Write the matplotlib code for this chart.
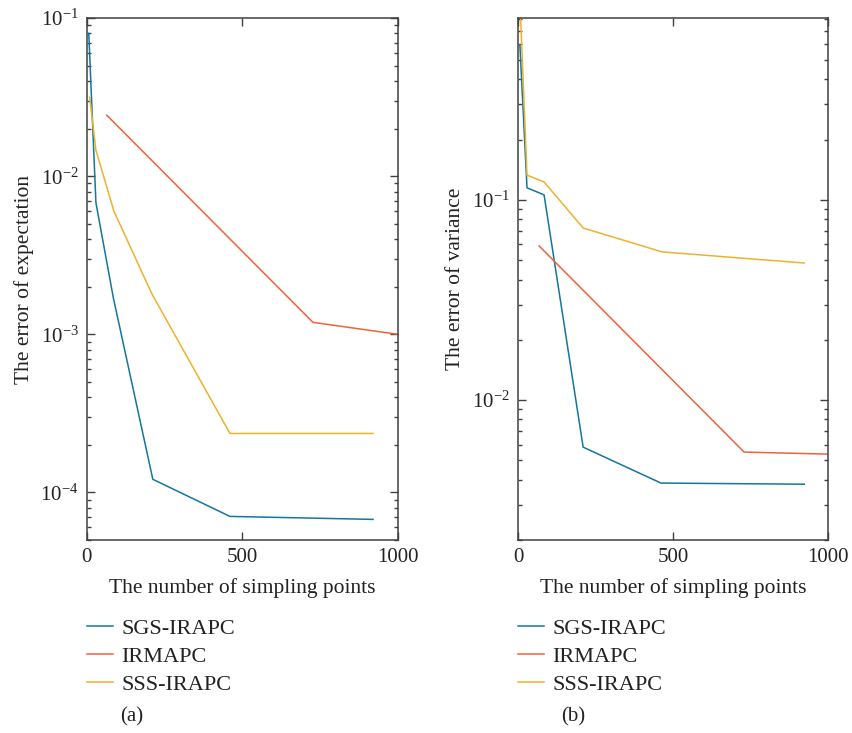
# Error of expectation and variance vs number of sampling points
import matplotlib.pyplot as plt
import numpy as np
from matplotlib.ticker import LogLocator, FixedLocator, NullFormatter

plt.rcParams['font.family'] = 'Liberation Serif'
plt.rcParams['mathtext.fontset'] = 'custom'
plt.rcParams['mathtext.rm'] = 'Liberation Serif'

labels = ['SGS-IRAPC', 'IRMAPC', 'SSS-IRAPC']
colors = ['#13769c', '#f0623a', '#ecb22e']

# (a) error of expectation
sgs_x_a = [6, 29, 85, 212, 460, 920]
sgs_y_a = [0.080, 0.0068, 0.0017, 1.21e-4, 7.05e-5, 6.75e-5]
irm_x_a = [64, 727, 1000]
irm_y_a = [0.0243, 1.19e-3, 1.0e-3]
sss_x_a = [9, 29, 87, 209, 460, 920]
sss_y_a = [0.0316, 0.0146, 0.0060, 0.0018, 2.36e-4, 2.36e-4]

# (b) error of variance
sgs_x_b = [6, 29, 84, 210, 461, 923]
sgs_y_b = [0.596, 0.115, 0.106, 0.00582, 0.00385, 0.0038]
irm_x_b = [68, 729, 1000]
irm_y_b = [0.0589, 0.0055, 0.00537]
sss_x_b = [6, 29, 84, 210, 465, 923]
sss_y_b = [1.0, 0.133, 0.123, 0.0724, 0.055, 0.0484]

fig = plt.figure(figsize=(8.52, 7.33), dpi=100)
ax1 = fig.add_axes([0.102, 0.2633, 0.365, 0.712])
ax2 = fig.add_axes([0.608, 0.2633, 0.364, 0.712])

panels = [
    (ax1, [(sgs_x_a, sgs_y_a), (irm_x_a, irm_y_a), (sss_x_a, sss_y_a)],
     (5.0e-5, 0.1), 'The error of expectation', '(a)', 0.155),
    (ax2, [(sgs_x_b, sgs_y_b), (irm_x_b, irm_y_b), (sss_x_b, sss_y_b)],
     (0.002, 0.81), 'The error of variance', '(b)', 0.6725),
]

for ax, series, ylim, ylab, tag, tx in panels:
    for (x, y), lab, c in zip(series, labels, colors):
        ax.plot(x, y, color=c, lw=1.1, label=lab)
    ax.set_yscale('log')
    ax.set_xlim(0, 1000)
    ax.set_ylim(*ylim)
    ax.xaxis.set_major_locator(FixedLocator([0, 500, 1000]))
    ax.yaxis.set_major_locator(LogLocator(base=10))
    ax.yaxis.set_minor_locator(LogLocator(base=10, subs=np.arange(2, 10)))
    ax.yaxis.set_minor_formatter(NullFormatter())
    ax.tick_params(which='both', direction='in', top=True, right=True,
                   colors='#404040', labelcolor='#222222', labelsize=15, pad=6)
    ax.tick_params(which='major', length=6, width=1)
    ax.tick_params(which='minor', length=3, width=1)
    for s in ax.spines.values():
        s.set_color('#404040')
        s.set_linewidth(1.1)
    ax.set_xlabel('The number of simpling points', fontsize=15.5, color='#222222',
                  labelpad=8)
    ax.set_ylabel(ylab, fontsize=15.5, color='#222222')
    ax.yaxis.set_label_coords(-0.17, 0.5)
    ax.legend(loc='upper left', bbox_to_anchor=(-0.064, -0.112), frameon=False,
              fontsize=16, handlelength=1.15, handletextpad=0.4, labelspacing=0.33,
              labelcolor='#222222')
    fig.text(tx, 0.022, tag, ha='center', va='center', fontsize=15, color='#222222')

plt.savefig('out.png', dpi=100)
